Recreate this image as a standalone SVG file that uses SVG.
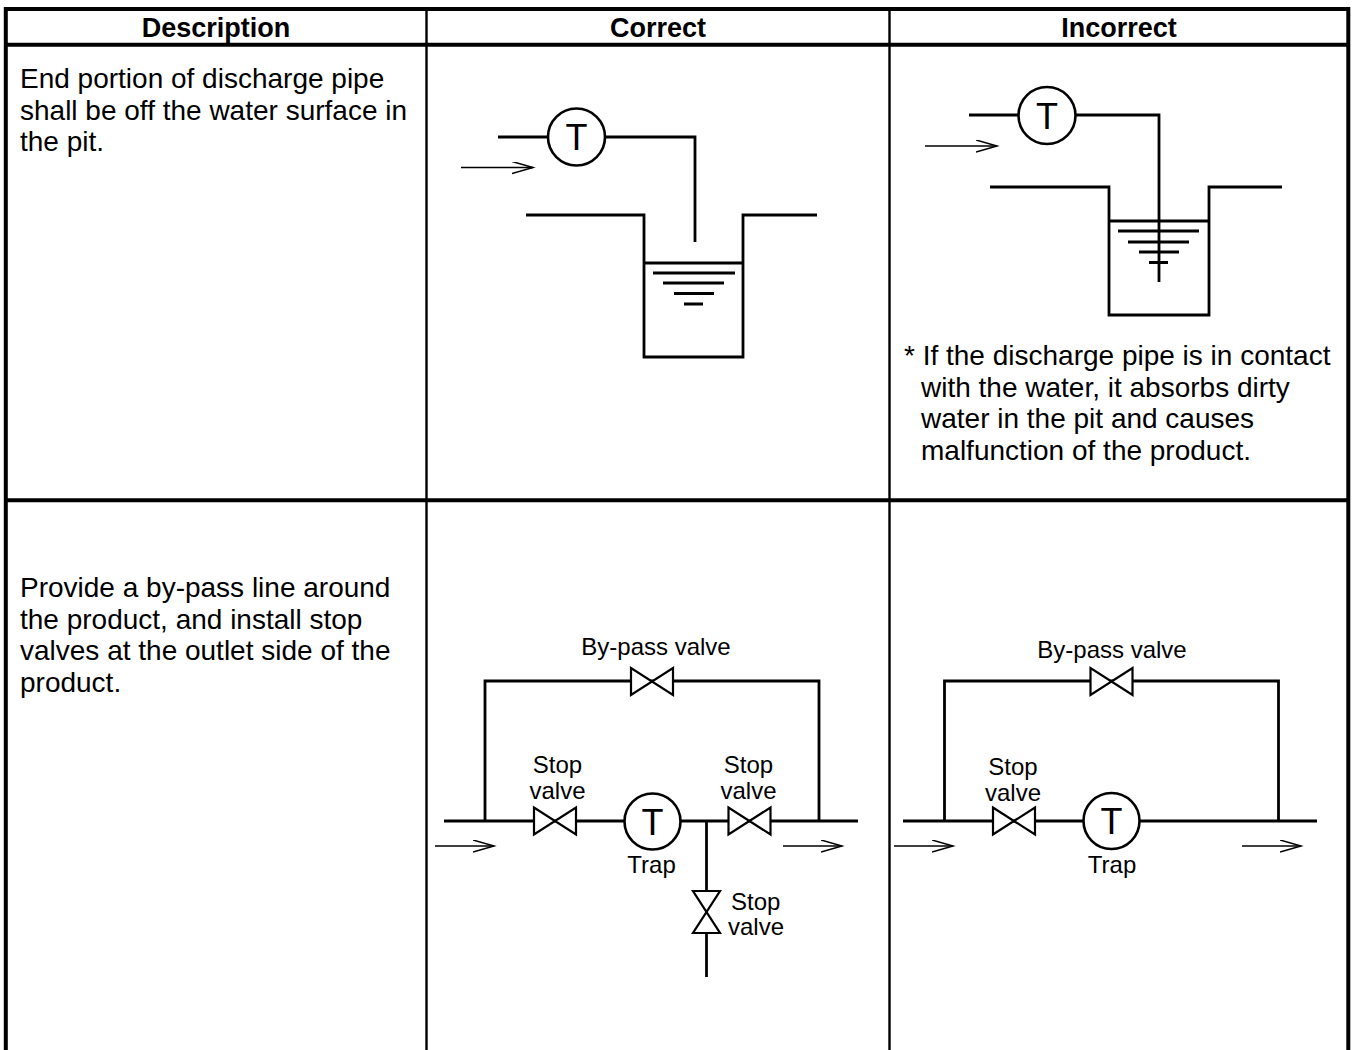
<svg xmlns="http://www.w3.org/2000/svg" xmlns:xlink="http://www.w3.org/1999/xlink" width="1354" height="1050" viewBox="0 0 1354 1050">
<style>
.tb{stroke:#000;stroke-width:4;fill:none}
.tc{stroke:#000;stroke-width:2.4;fill:none}
.pipe{stroke:#000;stroke-width:2.8;fill:none;stroke-linejoin:miter}
.circ{stroke:#000;stroke-width:2.6;fill:#fff}
.valve{stroke:#000;stroke-width:2.2;fill:#fff;stroke-linejoin:miter}
.flow{stroke:#000;stroke-width:1.5;fill:none}
text{font-family:"Liberation Sans",Arial,sans-serif;fill:#000}
.hd{font-size:27px;font-weight:bold;text-anchor:middle}
.body{font-size:28px}
.lbl{font-size:24px;text-anchor:middle}
.lbll{font-size:24px}
.tsym{font-size:36px;text-anchor:middle}
</style>
<defs>
<marker id="open" markerUnits="userSpaceOnUse" markerWidth="24" markerHeight="14" refX="21" refY="6" orient="auto">
<path d="M0,0 L21,6 L0,12" fill="none" stroke="#000" stroke-width="1.5"/>
</marker>
<path id="valveH" class="valve" d="M-21,-13.5 L-21,13.5 L21,-13.5 L21,13.5 Z"/>
</defs>
<rect width="1354" height="1050" fill="#fff"/>

<g id="table">
<path class="tb" d="M5.8,1050 V9 H1348.3 V1050"/>
<path class="tb" d="M5.8,44.7 H1348.3"/>
<path class="tb" d="M5.8,500.3 H1348.3"/>
<path class="tc" d="M426.5,9 V1050 M889.5,9 V1050"/>
<text class="hd" x="216" y="37">Description</text>
<text class="hd" x="658" y="37">Correct</text>
<text class="hd" x="1119" y="37">Incorrect</text>
</g>

<g id="desc1">
<text class="body" x="20" y="88">End portion of discharge pipe</text>
<text class="body" x="20" y="119.5">shall be off the water surface in</text>
<text class="body" x="20" y="151">the pit.</text>
</g>
<g id="desc2">
<text class="body" x="20" y="597">Provide a by-pass line around</text>
<text class="body" x="20" y="628.5">the product, and install stop</text>
<text class="body" x="20" y="660">valves at the outlet side of the</text>
<text class="body" x="20" y="691.5">product.</text>
</g>

<g id="correct-pit">
<path class="pipe" d="M498,137 H548"/>
<path class="pipe" d="M605,137 H695 V242"/>
<path class="pipe" d="M526,215 H644 V357 H743 V215 H817"/>
<path class="pipe" d="M644,263 H743"/>
<path class="pipe" d="M653,273 H735 M663,283 H724 M674,293.5 H714 M684,304 H703"/>
<circle class="circ" cx="576.5" cy="137" r="28.5"/>
<text class="tsym" x="576.5" y="150">T</text>
<path class="flow" d="M461,167.5 H533" marker-end="url(#open)"/>
</g>

<g id="incorrect-pit">
<path class="pipe" d="M969,115 H1019"/>
<path class="pipe" d="M1075,115 H1159 V282"/>
<path class="pipe" d="M990,187 H1109 V315 H1209 V187 H1282"/>
<path class="pipe" d="M1109,221 H1209"/>
<path class="pipe" d="M1118,231 H1199 M1128,242 H1189 M1139,252 H1179 M1149,262.5 H1168"/>
<circle class="circ" cx="1047" cy="115.5" r="28.5"/>
<text class="tsym" x="1047" y="128.5">T</text>
<path class="flow" d="M925,146 H997" marker-end="url(#open)"/>
<text class="body" x="904" y="365">* If the discharge pipe is in contact</text>
<text class="body" x="921" y="396.5">with the water, it absorbs dirty</text>
<text class="body" x="921" y="428">water in the pit and causes</text>
<text class="body" x="921" y="459.5">malfunction of the product.</text>
</g>

<g id="connectors">
<path class="pipe" d="M485,821 V681 H819 V821"/>
<path class="pipe" d="M444,821 H858"/>
<path class="pipe" d="M706.5,821 V977"/>
<path class="flow" d="M435,846 H494" marker-end="url(#open)"/>
<path class="flow" d="M783,846 H842" marker-end="url(#open)"/>
<path class="pipe" d="M944.5,821 V681 H1278.5 V821"/>
<path class="pipe" d="M903,821 H1317"/>
<path class="flow" d="M894,846 H953" marker-end="url(#open)"/>
<path class="flow" d="M1242,846 H1301" marker-end="url(#open)"/>
</g>

<g id="correct-bypass-valve">
<use xlink:href="#valveH" href="#valveH" x="652" y="681.5"/>
<text class="lbl" x="656" y="655">By-pass valve</text>
</g>
<g id="correct-stop-valve-in">
<use xlink:href="#valveH" href="#valveH" x="555" y="821"/>
<text class="lbl" x="557.5" y="773">Stop</text>
<text class="lbl" x="557.5" y="799">valve</text>
</g>
<g id="correct-trap">
<circle class="circ" cx="652.5" cy="821.5" r="28"/>
<text class="tsym" x="652.5" y="834.5">T</text>
<text class="lbl" x="651.5" y="873">Trap</text>
</g>
<g id="correct-stop-valve-out">
<use xlink:href="#valveH" href="#valveH" x="749.5" y="821"/>
<text class="lbl" x="748.5" y="773">Stop</text>
<text class="lbl" x="748.5" y="799">valve</text>
</g>
<g id="correct-stop-valve-drain">
<use xlink:href="#valveH" href="#valveH" transform="translate(706.5,912) rotate(90)"/>
<text class="lbll" x="731" y="910">Stop</text>
<text class="lbll" x="728" y="935">valve</text>
</g>

<g id="incorrect-bypass-valve">
<use xlink:href="#valveH" href="#valveH" x="1111.5" y="681.5"/>
<text class="lbl" x="1112" y="658">By-pass valve</text>
</g>
<g id="incorrect-stop-valve">
<use xlink:href="#valveH" href="#valveH" x="1014" y="821"/>
<text class="lbl" x="1013" y="775">Stop</text>
<text class="lbl" x="1013" y="801">valve</text>
</g>
<g id="incorrect-trap">
<circle class="circ" cx="1111.5" cy="821" r="28"/>
<text class="tsym" x="1111.5" y="834">T</text>
<text class="lbl" x="1112" y="873">Trap</text>
</g>
</svg>
